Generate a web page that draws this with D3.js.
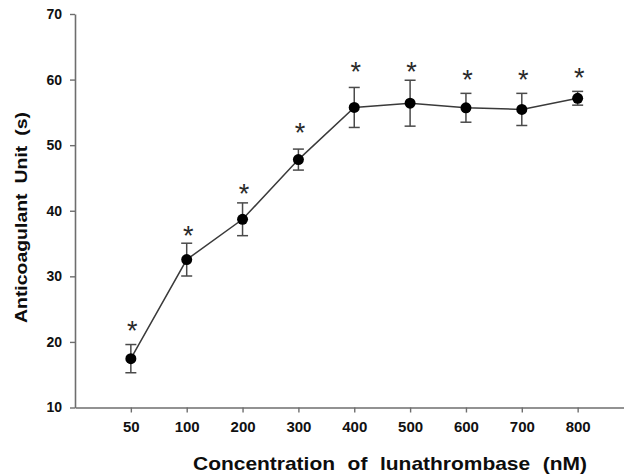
<!DOCTYPE html>
<html>
<head>
<meta charset="utf-8">
<script src="https://cdn.jsdelivr.net/npm/d3@7"></script>
<style>
  html, body { margin: 0; padding: 0; background: #fff; }
  svg { display: block; }
  .tick text { font-family: "Liberation Sans", Arial, sans-serif; font-weight: bold; fill: #111; }
</style>
</head>
<body>
<svg id="chart" width="624" height="476"></svg>
<script>
// Concentration groups (nM)
const concentrations = ["50", "100", "200", "300", "400", "500", "600", "700", "800"];
// Mean anticoagulant unit (s) per concentration
const meanUnit = [17.45, 32.55, 38.7, 47.8, 55.75, 56.4, 55.7, 55.45, 57.15];
// Error (± s) per concentration
const errUnit = [2.15, 2.5, 2.5, 1.6, 3.05, 3.5, 2.2, 2.45, 1.05];
// Level (s) at which each significance marker sits
const starLevel = [22.7, 37.1, 43.6, 52.9, 62.2, 62.2, 60.9, 60.9, 61.3];
// Y axis ticks
const yTicks = [10, 20, 30, 40, 50, 60, 70];

const svg = d3.select("#chart");

const x = d3.scalePoint()
  .domain(concentrations)
  .range([75, 633.5])
  .padding(1);

const y = d3.scaleLinear()
  .domain([10, 70])
  .range([407.5, 14]);

const axisColor = "#6e6e6e";

// X axis
const gx = svg.append("g")
  .attr("transform", `translate(0,${y(10)})`)
  .call(d3.axisBottom(x).tickSize(5).tickSizeOuter(0).tickPadding(9));
gx.select(".domain").attr("stroke", axisColor).attr("stroke-width", 1.6);
gx.selectAll(".tick line").attr("stroke", axisColor).attr("stroke-width", 1.4);
gx.selectAll(".tick text").attr("font-size", 15);

// Y axis
const gy = svg.append("g")
  .attr("transform", `translate(75,0)`)
  .call(d3.axisLeft(y).tickValues(yTicks).tickSize(5).tickSizeOuter(0).tickPadding(8));
gy.select(".domain").attr("stroke", axisColor).attr("stroke-width", 1.6);
gy.selectAll(".tick line").attr("stroke", axisColor).attr("stroke-width", 1.4);
gy.selectAll(".tick text").attr("font-size", 14);

const rows = concentrations.map((c, i) => ({ c, m: meanUnit[i], e: errUnit[i], s: starLevel[i] }));

// Connecting line
svg.append("path")
  .datum(rows)
  .attr("fill", "none")
  .attr("stroke", "#3a3a3a")
  .attr("stroke-width", 1.5)
  .attr("d", d3.line().x(d => x(d.c)).y(d => y(d.m)));

// Error bars
const cap = 5.5;
const eb = svg.append("g").attr("stroke", "#4a4a4a").attr("stroke-width", 1.5).attr("fill", "none");
rows.forEach(d => {
  const cx = x(d.c), t = y(d.m + d.e), b = y(d.m - d.e);
  eb.append("line").attr("x1", cx).attr("x2", cx).attr("y1", t).attr("y2", b);
  eb.append("line").attr("x1", cx - cap).attr("x2", cx + cap).attr("y1", t).attr("y2", t);
  eb.append("line").attr("x1", cx - cap).attr("x2", cx + cap).attr("y1", b).attr("y2", b);
});

// Mean markers
svg.append("g").selectAll("circle")
  .data(rows)
  .join("circle")
  .attr("cx", d => x(d.c))
  .attr("cy", d => y(d.m))
  .attr("r", 5.5)
  .attr("fill", "#000");

// Significance markers
const starSize = 27;
svg.append("g").selectAll("text")
  .data(rows)
  .join("text")
  .attr("x", d => x(d.c) + 1.5)
  .attr("y", d => y(d.s) + starSize * 0.58)
  .attr("text-anchor", "middle")
  .attr("font-family", "Liberation Sans, Arial, sans-serif")
  .attr("font-size", starSize)
  .attr("fill", "#2a2a2a")
  .text("*");

// Axis titles
svg.append("text")
  .attr("x", 193)
  .attr("y", 470)
  .attr("font-family", "Liberation Sans, Arial, sans-serif")
  .attr("font-weight", "bold")
  .attr("font-size", 18.5)
  .attr("word-spacing", 6)
  .attr("fill", "#0d0d0d")
  .attr("textLength", 394)
  .attr("lengthAdjust", "spacingAndGlyphs")
  .text("Concentration of lunathrombase (nM)");

svg.append("text")
  .attr("transform", "translate(27,217.5) rotate(-90)")
  .attr("text-anchor", "middle")
  .attr("font-family", "Liberation Sans, Arial, sans-serif")
  .attr("font-weight", "bold")
  .attr("font-size", 17)
  .attr("word-spacing", 4)
  .attr("fill", "#0d0d0d")
  .attr("textLength", 211)
  .attr("lengthAdjust", "spacingAndGlyphs")
  .text("Anticoagulant Unit (s)");
</script>
</body>
</html>
